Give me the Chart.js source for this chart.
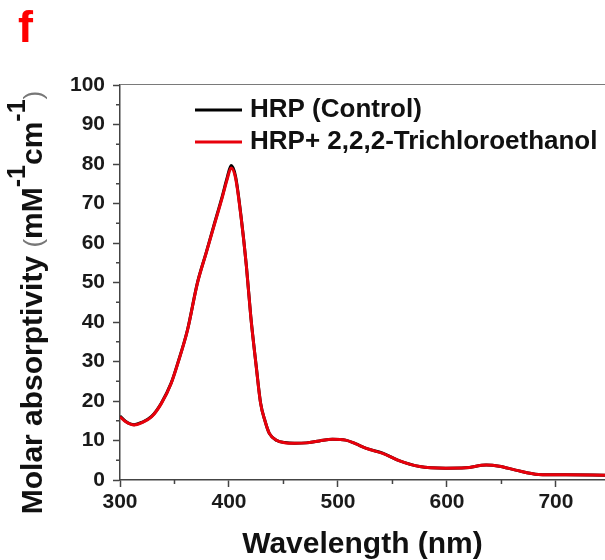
<!DOCTYPE html>
<html>
<head>
<meta charset="utf-8">
<script src="https://cdn.jsdelivr.net/npm/chart.js@4/dist/chart.umd.min.js"></script>
<style>
  html, body { margin: 0; padding: 0; background: #fff; }
</style>
</head>
<body>
<canvas id="myChart" width="605" height="560"></canvas>
<script>
// Wavelength (nm) and molar absorptivity (mM-1 cm-1)
const wavelengths = [300, 305, 313, 320, 329, 338, 347, 353, 362, 371, 379, 386, 394, 398, 402, 406,
  411, 416, 420, 425, 429, 433, 437, 444, 451, 460, 471, 483, 495, 507, 516, 526, 541, 556,
  575, 599, 617, 636, 648, 663, 684, 709, 745];
const control = [16.2, 14.9, 14.0, 14.6, 16.1, 19.5, 24.6, 29.6, 38.1, 49.9, 57.5, 64.3, 72.0, 76.2, 79.6, 76.9,
  66.9, 54.1, 41.4, 28.8, 19.5, 15.0, 11.8, 10.0, 9.5, 9.3, 9.4, 9.9, 10.3, 10.1, 9.2, 8.0, 6.8, 4.9,
  3.4, 3.0, 3.1, 3.8, 3.5, 2.5, 1.4, 1.3, 1.2];
const trichloroethanol = [16.0, 14.8, 13.9, 14.5, 16.0, 19.4, 24.5, 29.5, 38.0, 49.8, 57.4, 64.1, 71.7, 75.8, 79.0, 76.5,
  66.7, 54.0, 41.3, 28.7, 19.4, 15.0, 11.8, 10.0, 9.45, 9.3, 9.4, 9.9, 10.3, 10.1, 9.2, 8.0, 6.75, 4.9,
  3.4, 3.0, 3.1, 3.8, 3.5, 2.5, 1.4, 1.3, 1.2];
const seriesLabels = ['HRP (Control)', 'HRP+ 2,2,2-Trichloroethanol'];
const xTicks = [300, 400, 500, 600, 700];
const panelLetter = 'f';

const FONT = "'Liberation Sans', Arial, sans-serif";

// minor ticks, top frame line, legend, y title and panel letter
const extras = {
  id: 'extras',
  afterDraw(chart) {
    const ctx = chart.ctx, area = chart.chartArea;
    const xs = chart.scales.x, ys = chart.scales.y;
    ctx.save();

    ctx.strokeStyle = '#7a7a7a';
    ctx.lineWidth = 1;
    ctx.beginPath();
    ctx.moveTo(area.left, area.top - 0.5);
    ctx.lineTo(chart.width, area.top - 0.5);
    ctx.stroke();

    ctx.strokeStyle = '#444';
    ctx.lineWidth = 1.5;
    ctx.beginPath();
    const xt = xs.ticks.map(t => t.value);
    for (let i = 0; i < xt.length; i++) {
      const step = i + 1 < xt.length ? xt[i + 1] - xt[i] : xt[i] - xt[i - 1];
      const px = xs.getPixelForValue(xt[i] + step / 2);
      if (px > area.right) continue;
      ctx.moveTo(px, area.bottom);
      ctx.lineTo(px, area.bottom + 4);
    }
    const yt = ys.ticks.map(t => t.value);
    for (let i = 0; i + 1 < yt.length; i++) {
      const py = ys.getPixelForValue((yt[i] + yt[i + 1]) / 2);
      ctx.moveTo(area.left, py);
      ctx.lineTo(area.left - 4, py);
    }
    ctx.stroke();

    // legend inside the plot
    ctx.font = 'bold 26px ' + FONT;
    ctx.textBaseline = 'middle';
    ctx.textAlign = 'left';
    chart.data.datasets.forEach((ds, i) => {
      const ly = area.top + 25 + i * 32;
      ctx.strokeStyle = ds.borderColor;
      ctx.lineWidth = 3;
      ctx.beginPath();
      ctx.moveTo(area.left + 75, ly);
      ctx.lineTo(area.left + 122, ly);
      ctx.stroke();
      ctx.fillStyle = '#111';
      ctx.fillText(ds.label, area.left + 130, ly);
    });

    // y axis title with superscripts
    const parts = [
      { t: 'Molar absorptivity ', f: 'bold 30px ' + FONT, rise: 0, c: '#111' },
      { t: '(', f: '26px ' + FONT, rise: 0, c: '#777' },
      { t: 'mM', f: 'bold 30px ' + FONT, rise: 0, c: '#111' },
      { t: '-1', f: 'bold 25px ' + FONT, rise: 17, c: '#111' },
      { t: 'cm', f: 'bold 30px ' + FONT, rise: 0, c: '#111' },
      { t: '-1', f: 'bold 25px ' + FONT, rise: 17, c: '#111' },
      { t: ')', f: '26px ' + FONT, rise: 0, c: '#777' }
    ];
    let total = 0;
    parts.forEach(p => { ctx.font = p.f; p.w = ctx.measureText(p.t).width; total += p.w; });
    const cy = (area.top + area.bottom) / 2 + 20;
    ctx.translate(42, cy);
    ctx.rotate(-Math.PI / 2);
    ctx.textBaseline = 'alphabetic';
    let cx = -total / 2;
    parts.forEach(p => {
      ctx.font = p.f;
      ctx.fillStyle = p.c;
      ctx.fillText(p.t, cx, -p.rise);
      cx += p.w;
    });
    ctx.setTransform(1, 0, 0, 1, 0, 0);

    ctx.font = 'bold 45px ' + FONT;
    ctx.fillStyle = '#ff0000';
    ctx.fillText(panelLetter, 18, 42);
    ctx.restore();
  }
};

const ctx = document.getElementById('myChart').getContext('2d');
const myChart = new Chart(ctx, {
  type: 'line',
  data: {
    datasets: [
      {
        label: seriesLabels[0],
        data: wavelengths.map((w, i) => ({ x: w, y: control[i] })),
        borderColor: '#000000',
        borderWidth: 3,
        pointRadius: 0,
        cubicInterpolationMode: 'monotone',
        order: 1
      },
      {
        label: seriesLabels[1],
        data: wavelengths.map((w, i) => ({ x: w, y: trichloroethanol[i] })),
        borderColor: '#e8000b',
        borderWidth: 3,
        pointRadius: 0,
        cubicInterpolationMode: 'monotone',
        order: 0
      }
    ]
  },
  options: {
    responsive: false,
    animation: false,
    layout: { padding: { top: 85, left: 0, right: 0, bottom: 0 } },
    plugins: { legend: { display: false }, tooltip: { enabled: false } },
    scales: {
      x: {
        type: 'linear',
        min: 300,
        max: 745,
        afterBuildTicks: scale => { scale.ticks = xTicks.map(v => ({ value: v })); },
        afterFit: scale => { scale.height = 80; },
        ticks: {
          autoSkip: false,
          maxRotation: 0,
          padding: 3,
          color: '#1a1a1a',
          font: { family: FONT, size: 21, weight: 'bold' }
        },
        grid: { drawOnChartArea: false, tickLength: 7, tickColor: '#444', tickWidth: 1.5 },
        border: { display: true, color: '#444', width: 1.5 },
        title: {
          display: true,
          text: 'Wavelength (nm)',
          color: '#111',
          padding: { top: 0, bottom: 0 },
          font: { family: FONT, size: 30, weight: 'bold', lineHeight: 1 }
        }
      },
      y: {
        min: 0,
        max: 100,
        afterFit: scale => { scale.width = 120; },
        ticks: {
          stepSize: 10,
          padding: 8,
          color: '#1a1a1a',
          font: { family: FONT, size: 21, weight: 'bold' }
        },
        grid: { drawOnChartArea: false, tickLength: 7, tickColor: '#444', tickWidth: 1.5 },
        border: { display: true, color: '#444', width: 1.5 }
      }
    }
  },
  plugins: [extras]
});
</script>
</body>
</html>
